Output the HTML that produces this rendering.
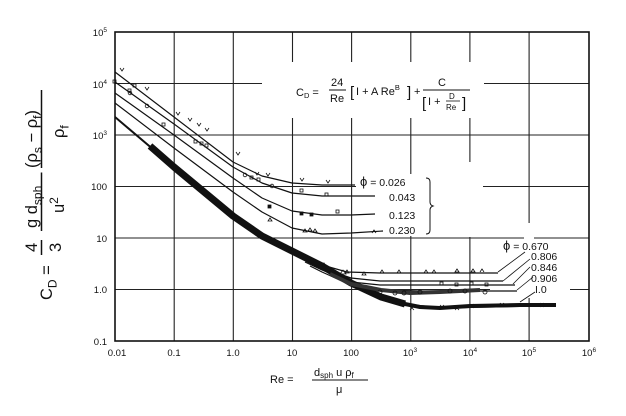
<!DOCTYPE html>
<html><head><meta charset="utf-8"><style>
html,body{margin:0;padding:0;background:#fff;}
svg{display:block;font-family:"Liberation Sans",sans-serif;}
</style></head><body>
<svg width="626" height="416" viewBox="0 0 626 416" xmlns="http://www.w3.org/2000/svg">
<g stroke="#222" stroke-width="1.1" fill="none">
<line x1="174.2" y1="32" x2="174.2" y2="341"/>
<line x1="233.3" y1="32" x2="233.3" y2="341"/>
<line x1="292.5" y1="32" x2="292.5" y2="341"/>
<line x1="351.6" y1="32" x2="351.6" y2="341"/>
<line x1="410.8" y1="32" x2="410.8" y2="341"/>
<line x1="469.9" y1="32" x2="469.9" y2="341"/>
<line x1="529.1" y1="32" x2="529.1" y2="341"/>
<line x1="115" y1="83.5" x2="589" y2="83.5"/>
<line x1="115" y1="135" x2="589" y2="135"/>
<line x1="115" y1="186.5" x2="589" y2="186.5"/>
<line x1="115" y1="238" x2="589" y2="238"/>
<line x1="115" y1="289.5" x2="589" y2="289.5"/>
</g>
<rect x="262" y="62" width="222" height="56" fill="#fff"/>
<rect x="356" y="174" width="127" height="62" fill="#fff"/>
<rect x="464" y="162" width="12" height="75" fill="#fff"/>
<rect x="490" y="240" width="80" height="58" fill="#fff"/>
<rect x="524" y="223" width="10" height="20" fill="#fff"/>
<rect x="115" y="32" width="474" height="309" fill="none" stroke="#111" stroke-width="1.6"/>
<g stroke="#111" fill="none" stroke-width="1.2" stroke-linejoin="round">
<polyline points="115,72 174,117 233,162 262,176 292,183 322,185 355,185"/>
<polyline points="115,82 174,124 233,167 262,183 292,193 322,196 351,196 375,196"/>
<polyline points="115,93 174,135 233,178 262,198 292,211 322,215 351,215 375,214"/>
<polyline points="115,103 174,148 233,192 262,212 292,228 322,234 351,233 383,231"/>
<polyline points="292,252 305,259 322,265 347,272 380,273 498,273"/>
<polyline points="300,258 322,268 351,278 380,281 503,281"/>
<polyline points="305,262 322,270 351,282 380,285 515,285"/>
<polyline points="310,266 322,272 351,285 380,290 420,291 517,291"/>
<polyline stroke-width="2" points="115,117 174,167 233,216 262,236 292,251 322,266 351,283 381,297 410,305 440,308 470,307 520,306 556,305"/>
<polyline stroke-width="7" points="150,146 174,167 233,216 262,236 292,251 322,266 351,283 381,297 405,304"/>
<polyline stroke-width="4" points="400,303 420,307 440,308 470,306 520,305 556,305"/>
<polyline stroke-width="4" stroke="#333" points="330,274 351,284 381,290 410,293 440,292 480,290"/>
</g>
<g fill="none" stroke="#111" stroke-width="0.8">
<path d="M120,68l2,3l2,-3M145,87l2,3l2,-3M176,112l2,3l2,-3M188,118l2,3l2,-3M197,123l2,3l2,-3M205,128l2,3l2,-3M236,152l2,3l2,-3M255,172l2,3l2,-3M266,173l2,3l2,-3M300,178l2,3l2,-3M326,180l2,3l2,-3"/>
<rect x="113" y="80" width="3" height="3"/><rect x="133" y="84" width="3" height="3"/><rect x="128" y="89" width="3" height="3"/><rect x="162" y="123" width="3" height="3"/>
<rect x="194" y="140" width="3" height="3"/><rect x="200" y="142" width="3" height="3"/><rect x="205" y="144" width="3" height="3"/>
<rect x="250" y="176" width="3" height="3"/><rect x="257" y="178" width="3" height="3"/><rect x="300" y="189" width="3" height="3"/><rect x="325" y="193" width="3" height="3"/>
<circle cx="130" cy="93" r="1.8"/><circle cx="147" cy="106" r="1.8"/><circle cx="272" cy="186" r="1.8"/><circle cx="245" cy="175" r="1.8"/>
<rect x="268" y="205" width="3" height="3" fill="#111"/><rect x="300" y="212" width="3" height="3" fill="#111"/><rect x="310" y="213" width="3" height="3" fill="#111"/><rect x="336" y="210" width="3" height="3"/>
<path d="M268,221l2,-3l2,3zM303,232l2,-3l2,3zM308,231l2,-3l2,3zM313,232l2,-3l2,3zM372,233l2,-3l2,3"/>
<path d="M322,266l2,-3l2,3zM345,273l2,-3l2,3zM340,274l3,-4l3,4zM362,275l2,-3l2,3zM380,273l2,-3l2,3zM397,273l2,-3l2,3zM424,273l2,-3l2,3zM432,273l2,-3l2,3zM455,272l2,-3l2,3zM471,272l2,-3l2,3zM480,272l2,-3l2,3"/>
<circle cx="380" cy="292" r="2"/><circle cx="395" cy="293" r="2"/><circle cx="404" cy="293" r="2"/><circle cx="420" cy="292" r="2"/><circle cx="450" cy="291" r="2"/><circle cx="465" cy="291" r="2"/><circle cx="485" cy="292" r="2"/>
<rect x="440" y="282" width="3" height="3"/><rect x="455" y="283" width="3" height="3"/><rect x="470" y="282" width="3" height="3"/><rect x="485" y="283" width="3" height="3"/>
<path d="M410,306l4,4M414,306l-4,4M440,305l4,4M444,305l-4,4M455,306l4,4M459,306l-4,4M470,304l4,4M474,304l-4,4M500,303l4,4M504,303l-4,4M540,303l4,4M544,303l-4,4"/>
</g>
<g font-size="9.5" fill="#111" text-anchor="end">
<text x="107" y="36">10<tspan font-size="6.5" dy="-4">5</tspan></text>
<text x="107" y="88">10<tspan font-size="6.5" dy="-4">4</tspan></text>
<text x="107" y="139">10<tspan font-size="6.5" dy="-4">3</tspan></text>
<text x="107" y="190">100</text>
<text x="107" y="242">10</text>
<text x="107" y="293">1.0</text>
<text x="107" y="345">0.1</text>
</g>
<g font-size="9.5" fill="#111" text-anchor="middle">
<text x="117" y="356">0.01</text>
<text x="174" y="356">0.1</text>
<text x="233" y="356">1.0</text>
<text x="292" y="356">10</text>
<text x="351" y="356">100</text>
<text x="410" y="356">10<tspan font-size="6.5" dy="-4">3</tspan></text>
<text x="470" y="356">10<tspan font-size="6.5" dy="-4">4</tspan></text>
<text x="529" y="356">10<tspan font-size="6.5" dy="-4">5</tspan></text>
<text x="589" y="356">10<tspan font-size="6.5" dy="-4">6</tspan></text>
</g>
<g font-size="11" fill="#111">
<text x="270" y="383">Re =</text>
<text x="314" y="376">d<tspan font-size="8" dy="2">sph</tspan><tspan dy="-2"> u ρ</tspan><tspan font-size="8" dy="2">f</tspan></text>
<line x1="312" y1="380" x2="368" y2="380" stroke="#111" stroke-width="1"/>
<text x="336" y="393">μ</text>
</g>
<g transform="translate(46,165) rotate(-90) scale(1.5)" font-size="11" fill="#111">
<text x="-90" y="4">C<tspan font-size="8" dy="3">D</tspan><tspan dy="-3"> =</tspan></text>
<text x="-58" y="-6">4</text><line x1="-60" y1="-3" x2="-50" y2="-3" stroke="#111"/><text x="-58" y="10">3</text>
<text x="-42" y="-6">g d<tspan font-size="8" dy="3">sph</tspan></text>
<line x1="-44" y1="-3" x2="-5" y2="-3" stroke="#111"/><text x="-32" y="12">u<tspan font-size="8" dy="-4">2</tspan></text>
<text x="-2" y="-6">(ρ<tspan font-size="8" dy="3">s</tspan><tspan dy="-3"> − ρ</tspan><tspan font-size="8" dy="3">f</tspan><tspan dy="-3">)</tspan></text>
<line x1="-2" y1="-3" x2="50" y2="-3" stroke="#111"/><text x="18" y="12">ρ<tspan font-size="8" dy="3">f</tspan></text>
</g>
<g font-size="11" fill="#111">
<text x="296" y="96">C<tspan font-size="7.5" dy="2">D</tspan><tspan dy="-2"> =</tspan></text>
<text x="331" y="86">24</text><line x1="329" y1="90" x2="346" y2="90" stroke="#111"/><text x="330" y="102">Re</text>
<text x="350" y="97" font-size="15">[</text><text x="356" y="95">I + A Re<tspan font-size="7.5" dy="-5">B</tspan></text><text x="407" y="97" font-size="15">]</text>
<text x="414" y="95">+</text>
<text x="438" y="86">C</text><line x1="423" y1="90" x2="470" y2="90" stroke="#111"/>
<text x="422" y="108" font-size="15">[</text><text x="428" y="105">I +</text>
<text x="449" y="99" font-size="8">D</text><line x1="446" y1="101" x2="460" y2="101" stroke="#111" stroke-width="0.8"/><text x="446" y="110" font-size="8">Re</text>
<text x="462" y="108" font-size="15">]</text>
</g>
<g font-size="10.5" fill="#111">
<text x="360" y="186"><tspan font-size="13">ϕ</tspan> = 0.026</text>
<text x="389" y="201">0.043</text>
<text x="389" y="219">0.123</text>
<text x="389" y="234">0.230</text>
<path d="M426,178 q4,0 4,4 v20 q0,3 3,4 q-3,1 -3,4 v20 q0,4 -4,4" fill="none" stroke="#111"/>
<text x="503" y="250"><tspan font-size="13">ϕ</tspan> = 0.670</text>
<text x="531" y="260">0.806</text>
<text x="531" y="271">0.846</text>
<text x="531" y="282">0.906</text>
<text x="535" y="293">I.0</text>
</g>
<g stroke="#111" stroke-width="0.8">
<line x1="498" y1="272" x2="525" y2="252"/>
<line x1="503" y1="281" x2="530" y2="259"/>
<line x1="513" y1="284" x2="530" y2="267"/>
<line x1="517" y1="290" x2="533" y2="277"/>
<line x1="520" y1="302" x2="535" y2="292"/>
</g>
</svg>
</body></html>
